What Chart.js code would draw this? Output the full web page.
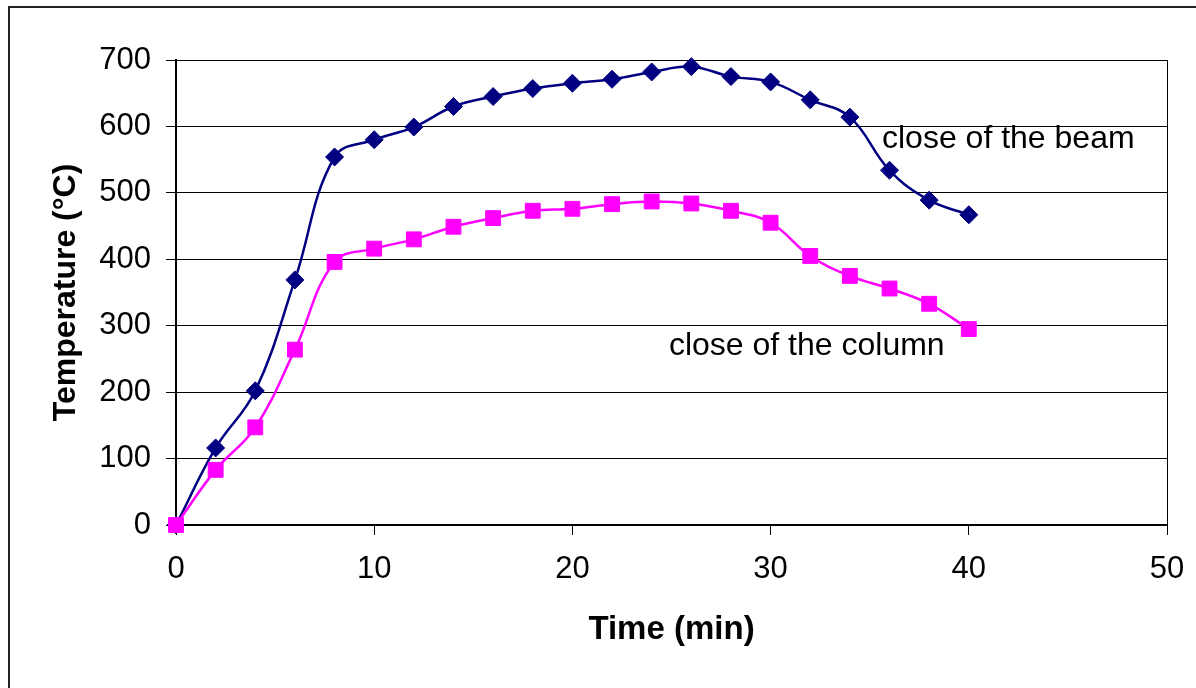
<!DOCTYPE html>
<html>
<head>
<meta charset="utf-8">
<script src="https://cdn.jsdelivr.net/npm/chart.js@4"></script>
<style>
  html, body { margin: 0; padding: 0; background: #fff; }
  #wrap { width: 1196px; height: 688px; position: relative; }
</style>
</head>
<body>
<div id="wrap"><canvas id="c" width="1196" height="688"></canvas></div>
<script>
// ---- data ----
const times = [0, 2, 4, 6, 8, 10, 12, 14, 16, 18, 20, 22, 24, 26, 28, 30, 32, 34, 36, 38, 40];
const beamTemps = [0, 116, 202, 369, 554, 580, 599, 630, 645, 657, 665, 671, 682, 690, 675, 667, 640, 614, 534, 489, 467];
const columnTemps = [0, 83, 147, 264, 396, 416, 430, 449, 462, 473, 476, 483, 487, 484, 473, 455, 405, 375, 356, 333, 295];
const seriesNames = ['close of the beam', 'close of the column'];
const xTitle = 'Time (min)';
const yTitle = 'Temperature (°C)';

const FONT = '"Liberation Sans", Arial, Helvetica, sans-serif';

const toPoints = (xs, ys) => xs.map((x, i) => ({ x: x, y: ys[i] }));

// labels placed next to the curves (anchor = left/baseline in data units)
const curveLabels = [
  { text: seriesNames[0], x: 35.62, y: 567 },
  { text: seriesNames[1], x: 24.87, y: 256 }
];

const framePlugin = {
  id: 'frame',
  beforeDraw(chart) {
    const ctx = chart.ctx;
    ctx.save();
    ctx.fillStyle = '#fff';
    ctx.fillRect(0, 0, chart.width, chart.height);
    ctx.strokeStyle = '#222';
    ctx.lineWidth = 2;
    ctx.strokeRect(9, 7, chart.width + 50, chart.height + 50);
    ctx.restore();
  },
  afterDatasetsDraw(chart) {
    const ctx = chart.ctx;
    const a = chart.chartArea;
    ctx.save();
    ctx.strokeStyle = '#000';
    ctx.lineWidth = 1;
    ctx.beginPath();
    ctx.moveTo(Math.round(a.right) + 0.5, a.top);
    ctx.lineTo(Math.round(a.right) + 0.5, a.bottom);
    ctx.stroke();
    const xs = chart.scales.x, ys = chart.scales.y;
    ctx.fillStyle = '#000';
    ctx.font = '32px ' + FONT;
    ctx.textAlign = 'left';
    ctx.textBaseline = 'alphabetic';
    curveLabels.forEach(l => {
      ctx.fillText(l.text, xs.getPixelForValue(l.x), ys.getPixelForValue(l.y));
    });
    ctx.restore();
  }
};

new Chart(document.getElementById('c'), {
  type: 'line',
  data: {
    datasets: [
      {
        label: seriesNames[1],
        data: toPoints(times, columnTemps),
        borderColor: '#FF00FF',
        backgroundColor: '#FF00FF',
        borderWidth: 2.5,
        pointStyle: 'rect',
        pointRadius: 10.5,
        pointBorderWidth: 1,
        pointBorderColor: '#FF00FF',
        pointBackgroundColor: '#FF00FF',
        tension: 0.4,
        clip: false,
        fill: false
      },
      {
        label: seriesNames[0],
        data: toPoints(times, beamTemps),
        borderColor: '#000080',
        backgroundColor: '#000080',
        borderWidth: 2.5,
        pointStyle: 'rectRot',
        pointRadius: 9,
        pointBorderWidth: 1,
        pointBorderColor: '#000080',
        pointBackgroundColor: '#000080',
        tension: 0.4,
        clip: false,
        fill: false
      }
    ]
  },
  options: {
    responsive: false,
    animation: false,
    devicePixelRatio: 1,
    layout: { padding: { left: 0, top: 60, right: 29, bottom: 0 } },
    plugins: {
      legend: { display: false },
      tooltip: { enabled: false },
      title: { display: false }
    },
    scales: {
      x: {
        type: 'linear',
        min: 0, max: 50,
        ticks: {
          stepSize: 10,
          color: '#000',
          font: { family: FONT, size: 31 },
          padding: 16,
          maxRotation: 0
        },
        grid: {
          drawOnChartArea: false,
          drawTicks: true,
          tickLength: 10,
          color: '#000',
          lineWidth: 1
        },
        border: { display: true, color: '#000', width: 2 },
        title: {
          display: true,
          text: xTitle,
          color: '#000',
          font: { family: FONT, size: 33, weight: 'bold' },
          padding: { top: 0, bottom: 38 }
        },
        afterFit(scale) {
          scale.height = 163;
          scale.paddingRight = 0;
          scale.paddingLeft = 0;
        }
      },
      y: {
        type: 'linear',
        min: 0, max: 700,
        ticks: {
          stepSize: 100,
          color: '#000',
          font: { family: FONT, size: 31 },
          padding: 15
        },
        grid: {
          drawOnChartArea: true,
          drawTicks: true,
          tickLength: 10,
          color: '#000',
          lineWidth: 1
        },
        border: { display: true, color: '#000', width: 2 },
        title: {
          display: true,
          text: yTitle,
          color: '#000',
          font: { family: FONT, size: 32, weight: 'bold' },
          padding: { top: 47, bottom: 0 }
        },
        afterFit(scale) { scale.width = 176; }
      }
    }
  },
  plugins: [framePlugin]
});
</script>
</body>
</html>
